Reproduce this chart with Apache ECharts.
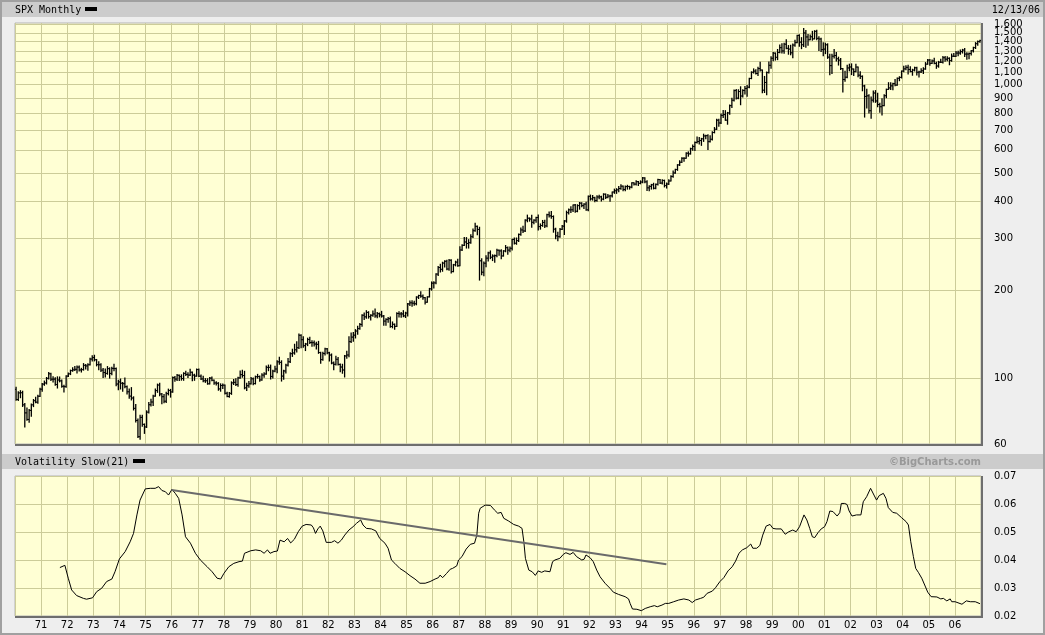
<!DOCTYPE html>
<html>
<head>
<meta charset="utf-8">
<script src="https://cdn.jsdelivr.net/npm/echarts@6/dist/echarts.min.js"></script>
<style>
html,body{margin:0;padding:0;background:#eeeeee;}
#chart{width:1045px;height:635px;}
</style>
</head>
<body>
<div id="chart"></div>
<script>
// SPX monthly bars, Jan 1970 .. Dec 2006, one row per year
var firstOpen = 92.06; // Dec 1969 close
var closes = [
  85.02,89.50,89.63,81.52,76.55,72.72,78.05,81.52,84.21,83.25,87.20,92.15,
  95.88,96.75,100.31,103.95,99.63,99.70,95.58,99.03,98.34,94.23,93.99,102.09,
  103.94,106.57,107.20,107.67,109.53,107.14,107.39,111.09,110.55,111.58,116.67,118.05,
  116.03,111.68,111.52,106.97,104.95,104.26,108.22,104.25,108.43,108.29,95.96,97.55,
  96.57,96.22,93.98,90.31,87.28,86.00,79.31,72.15,63.54,73.90,69.97,68.56,
  76.98,81.59,83.36,87.30,91.15,95.19,88.75,86.88,83.87,89.04,91.24,90.19,
  100.86,99.71,102.77,101.64,100.18,104.28,103.44,102.91,105.24,102.90,102.10,107.46,
  102.03,99.82,98.42,98.44,96.12,100.48,98.85,96.77,96.53,92.34,94.83,95.10,
  89.25,87.04,89.21,96.83,97.24,95.53,100.68,103.29,102.54,93.15,94.70,96.11,
  99.93,96.28,101.59,101.76,99.08,102.91,103.81,109.32,109.32,101.82,106.16,107.94,
  114.16,113.66,102.09,106.29,111.24,114.24,121.67,122.38,125.46,127.47,140.52,135.76,
  129.55,131.27,136.00,132.81,132.59,131.21,130.92,122.79,116.18,121.89,126.35,122.55,
  120.40,113.11,111.96,116.44,111.88,109.61,107.09,119.51,120.42,133.71,138.54,140.64,
  145.30,148.06,152.96,164.42,162.39,168.11,162.56,164.40,166.07,163.55,166.40,164.93,
  163.41,157.06,159.18,160.05,150.55,153.18,150.66,166.68,166.10,166.09,163.58,167.24,
  179.63,181.18,180.66,179.83,189.55,191.85,190.92,188.63,182.08,189.82,202.17,211.28,
  211.78,226.92,238.90,235.52,247.35,250.84,236.12,252.93,231.32,243.98,249.22,242.17,
  274.08,284.20,291.70,288.36,290.10,304.00,318.66,329.80,321.83,251.79,230.30,247.08,
  257.07,267.82,258.89,261.33,262.16,273.50,272.02,261.52,271.91,278.97,273.70,277.72,
  297.47,288.86,294.87,309.64,320.52,317.98,346.08,351.45,349.15,340.36,345.99,353.40,
  329.08,331.89,339.94,330.80,361.23,358.02,356.15,322.56,306.05,304.00,322.22,330.22,
  343.93,367.07,375.22,375.35,389.83,371.16,387.81,395.43,387.86,392.45,375.22,417.09,
  408.79,412.70,403.69,414.95,415.35,408.14,424.21,414.03,417.80,418.68,431.35,435.71,
  438.78,443.38,451.67,440.19,450.19,450.53,448.13,463.56,458.93,467.83,461.79,466.45,
  481.61,467.14,445.77,450.91,456.50,444.27,458.26,475.49,462.69,472.35,453.69,459.27,
  470.42,487.39,500.71,514.71,533.40,544.75,562.06,561.88,584.41,581.50,605.37,615.93,
  636.02,640.43,645.50,654.17,669.12,670.63,639.95,651.99,687.31,705.27,757.02,740.74,
  786.16,790.82,757.12,801.34,848.28,885.14,954.31,899.47,947.28,914.62,955.40,970.43,
  980.28,1049.34,1101.75,1111.75,1090.82,1133.84,1120.67,957.28,1017.01,1098.67,1163.63,1229.23,
  1279.64,1238.33,1286.37,1335.18,1301.84,1372.71,1328.72,1320.41,1282.71,1362.93,1388.91,1469.25,
  1394.46,1366.42,1498.58,1452.43,1420.60,1454.60,1430.83,1517.68,1436.51,1429.40,1314.95,1320.28,
  1366.01,1239.94,1160.33,1249.46,1255.82,1224.38,1211.23,1133.58,1040.94,1059.78,1139.45,1148.08,
  1130.20,1106.73,1147.39,1076.92,1067.14,989.82,911.62,916.07,815.28,885.76,936.31,879.82,
  855.70,841.15,848.18,916.92,963.59,974.50,990.31,1008.01,995.97,1050.71,1058.20,1111.92,
  1131.13,1144.94,1126.21,1107.30,1120.68,1140.84,1101.72,1104.24,1114.58,1130.20,1173.82,1211.92,
  1181.27,1203.60,1180.59,1156.85,1191.50,1191.33,1234.18,1220.33,1228.81,1207.01,1249.48,1248.29,
  1280.08,1280.66,1294.83,1310.61,1270.09,1270.20,1276.66,1303.82,1335.85,1377.94,1400.63,1413.21
];
var highs = [
  93.5,90.3,91.1,90.7,82.4,79.6,78.6,82.0,85.0,86.5,87.8,92.8,
  96.3,98.2,101.0,105.0,104.5,101.6,100.7,101.5,101.4,99.0,95.1,102.3,
  104.6,107.0,108.9,110.0,110.5,110.4,108.5,112.6,111.8,112.5,117.5,119.8,
  120.2,116.3,114.2,112.5,108.4,108.0,110.0,108.9,109.5,112.0,108.8,98.9,
  99.8,97.1,100.5,94.5,92.3,93.3,86.8,81.7,72.9,75.1,75.2,70.2,
  77.8,83.0,85.2,87.9,92.3,95.9,96.6,89.1,88.4,90.0,92.2,92.0,
  101.3,101.8,103.4,103.0,103.1,104.8,106.0,104.8,107.8,105.4,103.6,108.0,
  107.9,102.9,101.9,100.1,100.0,101.0,101.4,99.1,97.6,97.0,96.1,95.9,
  95.2,90.0,89.8,97.6,99.5,100.0,101.2,106.3,106.9,106.0,96.6,97.9,
  101.0,100.5,102.1,103.5,102.2,104.0,104.9,110.5,111.3,111.3,106.8,110.2,
  115.2,118.4,115.1,106.9,112.0,117.1,122.5,126.0,131.0,133.7,141.9,141.2,
  139.0,131.9,137.4,138.4,134.6,134.5,133.0,134.0,123.1,123.0,127.0,126.7,
  123.0,121.4,114.0,119.3,118.0,112.3,112.0,120.0,124.0,139.0,143.0,143.7,
  146.9,150.9,154.0,164.9,167.4,170.4,169.0,165.2,170.0,172.7,168.1,167.3,
  169.5,164.0,160.0,161.5,162.1,156.0,153.5,167.5,168.9,168.1,170.4,168.3,
  180.3,183.9,184.0,183.6,190.0,192.3,197.6,192.6,189.0,190.0,202.9,213.4,
  213.6,227.5,240.7,245.3,249.0,251.8,253.0,254.6,254.0,244.8,251.0,254.9,
  280.9,285.5,301.9,301.9,297.1,309.0,323.0,337.9,330.6,327.4,255.8,249.2,
  262.0,269.1,272.0,263.8,263.6,275.5,274.0,274.5,272.6,283.7,280.3,280.4,
  297.9,300.8,301.0,310.5,325.5,329.7,347.0,360.0,352.2,359.8,347.2,354.1,
  360.6,336.1,345.3,346.1,362.3,368.9,370.2,357.9,325.0,315.0,324.1,331.8,
  344.9,371.4,378.0,384.3,390.0,391.3,390.4,397.4,396.4,393.2,398.3,418.3,
  421.2,419.8,413.7,418.8,420.9,417.0,425.5,424.8,423.0,420.9,431.8,441.3,
  442.7,450.7,456.3,452.0,452.4,454.7,451.2,464.3,463.8,471.3,468.6,470.8,
  482.9,482.0,471.1,453.1,458.0,462.0,459.0,477.1,475.9,474.7,473.4,463.0,
  474.6,489.7,508.3,515.2,534.4,551.1,563.8,563.8,586.2,590.7,608.0,622.9,
  638.5,664.2,661.5,656.6,678.5,673.3,675.9,670.7,690.9,714.6,762.0,762.0,
  794.7,817.4,815.6,804.6,851.9,898.7,959.6,961.8,960.5,983.1,961.2,986.3,
  992.8,1051.8,1105.7,1131.3,1123.2,1145.2,1190.6,1121.0,1066.1,1103.8,1193.2,1244.9,
  1285.0,1281.4,1316.6,1362.8,1375.9,1383.0,1420.3,1357.7,1361.0,1373.2,1414.2,1473.1,
  1478.0,1444.6,1552.9,1527.2,1481.5,1474.6,1517.3,1525.2,1530.1,1454.8,1438.5,1389.1,
  1383.4,1376.4,1267.4,1269.3,1315.9,1286.6,1239.8,1226.3,1135.5,1110.6,1163.4,1173.6,
  1176.6,1130.2,1173.0,1147.8,1106.6,1070.7,994.5,965.0,924.0,907.4,951.6,954.3,
  935.1,864.6,895.9,924.2,965.4,1015.3,1015.4,1011.0,1040.3,1053.8,1063.7,1112.6,
  1155.4,1158.9,1163.2,1150.6,1127.7,1146.3,1146.5,1109.7,1131.5,1142.1,1188.5,1217.9,
  1217.8,1212.4,1229.1,1191.9,1199.6,1219.6,1245.2,1245.9,1243.1,1233.3,1270.6,1275.8,
  1294.9,1297.6,1310.9,1318.2,1326.7,1284.0,1280.4,1306.7,1340.3,1389.5,1407.9,1415.9
];
var lows = [
  84.5,84.4,86.2,80.5,68.6,72.2,71.2,74.6,80.4,82.8,82.5,87.0,
  90.6,95.0,96.0,99.8,98.6,97.4,95.0,93.0,97.6,93.5,90.2,93.5,
  101.7,103.3,106.0,106.7,104.7,106.2,105.4,107.0,108.0,106.8,111.3,114.9,
  115.0,110.6,107.4,105.8,101.0,101.4,103.6,100.5,103.2,106.5,94.7,91.7,
  92.3,90.6,93.2,88.7,85.8,84.7,78.3,71.3,63.1,62.3,68.9,65.2,
  68.3,76.5,80.8,81.1,87.2,89.9,87.5,82.2,82.9,83.0,88.1,86.6,
  90.0,98.0,98.6,98.7,98.9,98.8,102.6,101.0,102.6,98.4,98.8,101.9,
  101.7,99.4,97.6,97.2,95.8,96.0,98.4,95.8,95.3,91.4,90.7,92.7,
  88.8,86.9,86.5,88.5,95.6,94.8,94.3,100.3,101.2,92.4,91.2,93.6,
  95.9,95.5,96.0,100.5,98.0,98.9,101.2,103.6,106.5,99.8,100.6,105.7,
  104.8,112.0,98.2,99.7,104.7,110.5,113.6,119.1,121.2,123.3,126.8,127.4,
  128.0,124.7,129.6,131.7,128.9,129.1,126.3,122.0,112.8,115.5,120.4,121.7,
  114.9,112.4,107.3,111.4,111.3,105.6,104.4,101.4,117.3,118.8,132.9,134.0,
  137.6,141.7,147.2,150.9,159.0,160.6,160.7,158.5,163.0,161.8,161.3,162.3,
  162.0,152.1,151.9,155.6,149.8,149.0,147.3,150.6,162.3,161.8,162.5,161.5,
  163.4,177.4,176.5,177.9,178.4,187.4,189.4,186.5,179.5,181.9,189.7,200.1,
  203.5,210.4,224.4,230.6,232.0,240.0,234.9,233.7,228.7,231.0,242.0,241.4,
  242.1,273.0,283.7,278.2,278.2,288.7,302.1,317.5,308.6,216.5,225.8,223.9,
  240.2,251.2,256.0,252.2,248.9,259.7,263.1,256.0,261.2,270.2,265.0,270.4,
  274.1,287.0,286.5,292.6,307.7,314.0,316.5,341.7,343.4,327.1,336.6,340.7,
  320.6,322.6,329.8,326.7,328.7,355.0,351.1,315.0,299.5,294.5,302.9,321.8,
  309.3,340.6,363.3,367.8,370.3,367.9,369.6,377.1,384.2,379.0,373.8,372.8,
  405.0,405.0,399.5,401.0,409.2,401.9,406.0,410.4,412.5,401.2,415.1,427.0,
  426.9,432.4,440.6,435.7,436.0,441.2,441.4,446.0,455.5,456.0,454.4,460.0,
  464.0,464.0,436.2,435.9,441.4,442.0,443.0,455.6,461.3,459.6,448.9,445.0,
  457.9,469.9,484.5,499.9,511.2,530.6,543.8,548.6,561.6,571.0,580.6,597.9,
  597.3,633.7,627.9,621.6,641.2,654.4,601.8,638.6,648.4,685.4,703.8,722.0,
  737.0,772.4,756.1,733.5,793.2,836.8,880.5,893.3,895.6,854.3,907.0,929.6,
  912.8,975.5,1047.2,1094.9,1086.9,1074.0,1112.4,939.0,940.3,923.3,1096.3,1136.9,
  1205.5,1211.6,1216.0,1282.6,1281.2,1279.6,1323.6,1268.7,1263.0,1233.7,1351.4,1387.4,
  1350.1,1325.1,1346.6,1339.4,1361.1,1420.6,1416.3,1430.8,1421.0,1305.8,1294.9,1254.1,
  1274.6,1228.3,1081.2,1091.9,1232.0,1203.0,1165.5,1124.9,944.8,1026.8,1054.3,1114.5,
  1081.6,1074.4,1106.7,1063.5,1048.9,952.9,775.7,833.4,800.2,768.6,872.1,870.4,
  840.3,806.3,788.9,847.9,902.8,963.3,962.1,960.8,990.4,995.9,1031.2,1053.4,
  1105.1,1124.4,1087.2,1105.9,1076.3,1113.3,1078.8,1060.7,1099.2,1090.2,1127.6,1173.8,
  1163.8,1180.5,1176.9,1136.2,1146.2,1188.3,1183.6,1201.1,1205.4,1168.2,1201.1,1246.6,
  1245.7,1253.6,1268.0,1280.7,1245.3,1219.3,1224.5,1261.3,1290.9,1327.1,1360.9,1394.4
];
// price ticks; 1,500 sits on its own overlay axis so it is not hidden next to 1,600
var priceTicks = [60,100,200,300,400,500,600,700,800,900,1000,1100,1200,1300,1400,1600];
var priceTicksExtra = [1500];

// Volatility Slow(21)
var volYears = [
  1971.72,1971.91,1972.04,1972.17,1972.36,1972.62,1972.74,1972.97,1973.13,1973.32,1973.51,1973.71,1973.83,
  1974.00,1974.22,1974.41,1974.54,1974.67,1974.79,1974.99,1975.18,1975.37,1975.50,1975.63,1975.76,1975.88,
  1976.01,1976.14,1976.27,1976.40,1976.53,1976.72,1976.91,1977.10,1977.36,1977.55,1977.74,1977.81,1977.88,
  1978.00,1978.19,1978.38,1978.58,1978.71,1978.79,1979.03,1979.22,1979.41,1979.54,1979.67,1979.77,1979.92,
  1980.05,1980.15,1980.31,1980.44,1980.56,1980.70,1980.85,1981.00,1981.15,1981.35,1981.43,1981.51,1981.60,
  1981.69,1981.79,1981.92,1982.12,1982.24,1982.37,1982.50,1982.63,1982.79,1982.95,1983.08,1983.24,1983.33,
  1983.46,1983.65,1983.82,1983.97,1984.17,1984.29,1984.42,1984.55,1984.74,1984.94,1985.13,1985.32,1985.51,
  1985.71,1985.90,1986.09,1986.22,1986.28,1986.38,1986.53,1986.67,1986.76,1986.83,1986.92,1986.99,1987.12,
  1987.28,1987.44,1987.60,1987.69,1987.76,1987.82,1988.01,1988.21,1988.36,1988.49,1988.62,1988.72,1988.91,
  1989.10,1989.29,1989.42,1989.49,1989.55,1989.68,1989.81,1989.93,1990.04,1990.17,1990.29,1990.49,1990.59,
  1990.68,1990.87,1991.00,1991.10,1991.26,1991.38,1991.51,1991.71,1991.80,1991.87,1991.94,1992.03,1992.15,
  1992.28,1992.41,1992.60,1992.79,1992.92,1993.12,1993.37,1993.50,1993.56,1993.65,1993.82,1993.99,1994.14,
  1994.33,1994.49,1994.60,1994.78,1994.91,1995.04,1995.23,1995.42,1995.62,1995.81,1995.94,1996.06,1996.26,
  1996.38,1996.51,1996.71,1996.83,1997.00,1997.15,1997.31,1997.47,1997.60,1997.73,1997.86,1998.03,1998.18,
  1998.26,1998.41,1998.53,1998.64,1998.77,1998.92,1999.03,1999.15,1999.35,1999.41,1999.50,1999.64,1999.79,
  1999.92,2000.05,2000.22,2000.33,2000.44,2000.54,2000.63,2000.76,2000.88,2001.01,2001.10,2001.21,2001.33,
  2001.49,2001.59,2001.65,2001.78,2001.87,2001.95,2002.06,2002.23,2002.40,2002.49,2002.62,2002.77,2002.90,
  2003.00,2003.10,2003.26,2003.36,2003.45,2003.62,2003.77,2003.96,2004.13,2004.22,2004.31,2004.41,2004.50,
  2004.60,2004.73,2004.86,2004.96,2005.09,2005.31,2005.46,2005.56,2005.69,2005.82,2005.88,2006.01,2006.27,
  2006.44,2006.59,2006.78,2006.96
];
var volValues = [
  0.0373,0.0381,0.0335,0.0293,0.0273,0.0263,0.0260,0.0265,0.0287,0.0299,0.0323,0.0332,0.0358,
  0.0404,0.0430,0.0465,0.0495,0.0561,0.0614,0.0654,0.0656,0.0656,0.0662,0.0648,0.0644,0.0632,
  0.0652,0.0638,0.0620,0.0561,0.0483,0.0460,0.0424,0.0400,0.0376,0.0358,0.0335,0.0340,0.0332,
  0.0352,0.0376,0.0388,0.0394,0.0396,0.0424,0.0433,0.0436,0.0433,0.0424,0.0436,0.0424,0.0430,
  0.0432,0.0471,0.0465,0.0477,0.0461,0.0474,0.0501,0.0521,0.0527,0.0525,0.0515,0.0495,0.0511,
  0.0521,0.0504,0.0463,0.0463,0.0469,0.0460,0.0471,0.0489,0.0507,0.0519,0.0531,0.0543,0.0525,
  0.0513,0.0511,0.0504,0.0477,0.0460,0.0442,0.0400,0.0388,0.0370,0.0358,0.0344,0.0332,0.0317,
  0.0317,0.0323,0.0332,0.0337,0.0346,0.0337,0.0352,0.0367,0.0370,0.0364,0.0379,0.0400,0.0412,
  0.0439,0.0456,0.0460,0.0489,0.0567,0.0585,0.0596,0.0595,0.0579,0.0567,0.0570,0.0549,0.0539,
  0.0527,0.0521,0.0513,0.0465,0.0406,0.0364,0.0358,0.0345,0.0361,0.0356,0.0361,0.0358,0.0394,
  0.0400,0.0406,0.0420,0.0426,0.0420,0.0427,0.0412,0.0400,0.0403,0.0418,0.0424,0.0408,0.0394,
  0.0364,0.0340,0.0317,0.0299,0.0285,0.0277,0.0269,0.0261,0.0245,0.0225,0.0224,0.0219,0.0227,
  0.0233,0.0237,0.0233,0.0239,0.0245,0.0245,0.0251,0.0257,0.0261,0.0257,0.0248,0.0257,0.0263,
  0.0267,0.0281,0.0289,0.0301,0.0323,0.0337,0.0361,0.0376,0.0396,0.0424,0.0436,0.0444,0.0457,
  0.0442,0.0442,0.0452,0.0489,0.0521,0.0527,0.0513,0.0511,0.0511,0.0507,0.0492,0.0501,0.0507,
  0.0501,0.0519,0.0561,0.0543,0.0513,0.0483,0.0480,0.0498,0.0511,0.0519,0.0537,0.0575,0.0573,
  0.0557,0.0569,0.0602,0.0602,0.0598,0.0575,0.0557,0.0561,0.0561,0.0608,0.0626,0.0656,0.0632,
  0.0614,0.0630,0.0638,0.0620,0.0587,0.0570,0.0567,0.0551,0.0537,0.0525,0.0465,0.0412,0.0370,
  0.0356,0.0335,0.0307,0.0285,0.0269,0.0268,0.0261,0.0263,0.0254,0.0261,0.0251,0.0251,0.0242,
  0.0254,0.0251,0.0251,0.0244
];
// hand-drawn trendline on the volatility panel
var trendYears = [1976.0, 1994.95];
var trendValues = [0.0650, 0.0385];

var barData = [];
for (var i = 0; i < closes.length; i++) {
  var t = 1970 + (i + 0.5) / 12;
  var open = i === 0 ? firstOpen : closes[i - 1];
  barData.push([t, open, highs[i], lows[i], closes[i]]);
}
var volData = volYears.map(function (y, i) { return [y, volValues[i]]; });
var trendData = trendYears.map(function (y, i) { return [y, trendValues[i]]; });

function renderBar(params, api) {
  var x = api.value(0);
  var op = api.coord([x, api.value(1)]);
  var hi = api.coord([x, api.value(2)]);
  var lo = api.coord([x, api.value(3)]);
  var cl = api.coord([x, api.value(4)]);
  var s = { stroke: '#000', lineWidth: 1.3 };
  return {
    type: 'group',
    children: [
      { type: 'line', shape: { x1: hi[0], y1: hi[1] - 0.5, x2: lo[0], y2: lo[1] + 0.5 }, style: s },
      { type: 'line', shape: { x1: op[0] - 1.3, y1: op[1], x2: op[0], y2: op[1] }, style: { stroke: '#000', lineWidth: 1 } },
      { type: 'line', shape: { x1: cl[0], y1: cl[1], x2: cl[0] + 1.3, y2: cl[1] }, style: { stroke: '#000', lineWidth: 1 } }
    ]
  };
}

var labelFont = { color: '#000', fontFamily: 'DejaVu Sans', fontSize: 10 };
var gridColor = '#cccc99';
var monoFont = '10px "DejaVu Sans Mono"';

function priceLabel(v) {
  var n = Math.round(v);
  return n >= 1000 ? Math.floor(n / 1000) + ',' + String(n % 1000).padStart(3, '0') : String(n);
}

var chart = echarts.init(document.getElementById('chart'));
chart.setOption({
  animation: false,
  backgroundColor: '#eeeeee',
  grid: [
    { left: 15, top: 23, width: 966, height: 421, show: true, backgroundColor: '#ffffd4', borderColor: '#b4b4b4', borderWidth: 1 },
    { left: 15, top: 476, width: 966, height: 140, show: true, backgroundColor: '#ffffd4', borderColor: '#b4b4b4', borderWidth: 1 }
  ],
  xAxis: [
    {
      type: 'value', gridIndex: 0, min: 1970, max: 2007, interval: 1,
      axisLine: { show: false }, axisTick: { show: false }, axisLabel: { show: false },
      splitLine: { show: true, lineStyle: { color: gridColor, width: 1 } }
    },
    {
      type: 'value', gridIndex: 1, min: 1970, max: 2007, interval: 1,
      axisLine: { show: false }, axisTick: { show: false },
      axisLabel: Object.assign({
        margin: 4,
        showMinLabel: false, showMaxLabel: false,
        formatter: function (v) {
          if (v <= 1970 || v >= 2007) return '';
          var yy = v % 100;
          return (yy < 10 ? '0' : '') + yy;
        }
      }, labelFont),
      splitLine: { show: true, lineStyle: { color: gridColor, width: 1 } }
    }
  ],
  yAxis: [
    {
      type: 'log', gridIndex: 0, position: 'right', min: 60, max: 1620, logBase: 10,
      axisLine: { show: false },
      axisTick: { show: false, customValues: priceTicks },
      axisLabel: Object.assign({
        margin: 13, hideOverlap: false, showMinLabel: true, showMaxLabel: true,
        customValues: priceTicks, formatter: priceLabel
      }, labelFont),
      splitLine: { show: true, lineStyle: { color: gridColor, width: 1 } }
    },
    {
      type: 'value', gridIndex: 1, position: 'right', min: 0.02, max: 0.07, interval: 0.01,
      axisLine: { show: false }, axisTick: { show: false },
      axisLabel: Object.assign({
        margin: 13,
        formatter: function (v) { return v.toFixed(2); }
      }, labelFont),
      splitLine: { show: true, lineStyle: { color: gridColor, width: 1 } }
    },
    {
      type: 'log', gridIndex: 0, position: 'right', min: 60, max: 1620, logBase: 10,
      axisLine: { show: false },
      axisTick: { show: false, customValues: priceTicksExtra },
      axisLabel: Object.assign({
        margin: 13, hideOverlap: false,
        customValues: priceTicksExtra, formatter: priceLabel
      }, labelFont),
      splitLine: { show: true, lineStyle: { color: gridColor, width: 1 } }
    }
  ],
  series: [
    {
      type: 'custom', name: 'SPX', xAxisIndex: 0, yAxisIndex: 0,
      renderItem: renderBar, data: barData, clip: true,
      encode: { x: 0, y: [1, 2, 3, 4] }
    },
    {
      type: 'line', name: 'Volatility', xAxisIndex: 1, yAxisIndex: 1,
      data: volData, symbol: 'none', lineStyle: { color: '#000', width: 1 }, z: 3
    },
    {
      type: 'line', name: 'trend', xAxisIndex: 1, yAxisIndex: 1,
      data: trendData, symbol: 'none', lineStyle: { color: '#6a6a6a', width: 2 }, z: 4
    }
  ],
  graphic: [
    { type: 'rect', shape: { x: 1, y: 1, width: 1043, height: 633 }, style: { fill: 'none', stroke: '#a0a0a0', lineWidth: 2 }, z: 100 },
    { type: 'rect', shape: { x: 2, y: 2, width: 1041, height: 15 }, style: { fill: '#cccccc' } },
    { type: 'text', style: { x: 15, y: 10, text: 'SPX Monthly', font: monoFont, fill: '#000', verticalAlign: 'middle' } },
    { type: 'rect', shape: { x: 85, y: 7, width: 12, height: 4 }, style: { fill: '#000' } },
    { type: 'text', style: { x: 1040, y: 10, text: '12/13/06', font: monoFont, fill: '#000', align: 'right', verticalAlign: 'middle' } },
    { type: 'rect', shape: { x: 2, y: 454, width: 1041, height: 15 }, style: { fill: '#cccccc' } },
    { type: 'text', style: { x: 15, y: 462, text: 'Volatility Slow(21)', font: monoFont, fill: '#000', verticalAlign: 'middle' } },
    { type: 'rect', shape: { x: 133, y: 459, width: 12, height: 4 }, style: { fill: '#000' } },
    { type: 'text', style: { x: 981, y: 462, text: '\u00a9BigCharts.com', font: 'bold 10px "DejaVu Sans"', fill: '#999999', align: 'right', verticalAlign: 'middle' } },
    // shadowed right/bottom edges of both panels
    { type: 'polyline', shape: { points: [[982, 23], [982, 445], [15, 445]] }, style: { fill: 'none', stroke: '#6e6e6e', lineWidth: 2 }, z: 50 },
    { type: 'polyline', shape: { points: [[982, 476], [982, 617], [15, 617]] }, style: { fill: 'none', stroke: '#6e6e6e', lineWidth: 2 }, z: 50 }
  ]
});
</script>
</body>
</html>
